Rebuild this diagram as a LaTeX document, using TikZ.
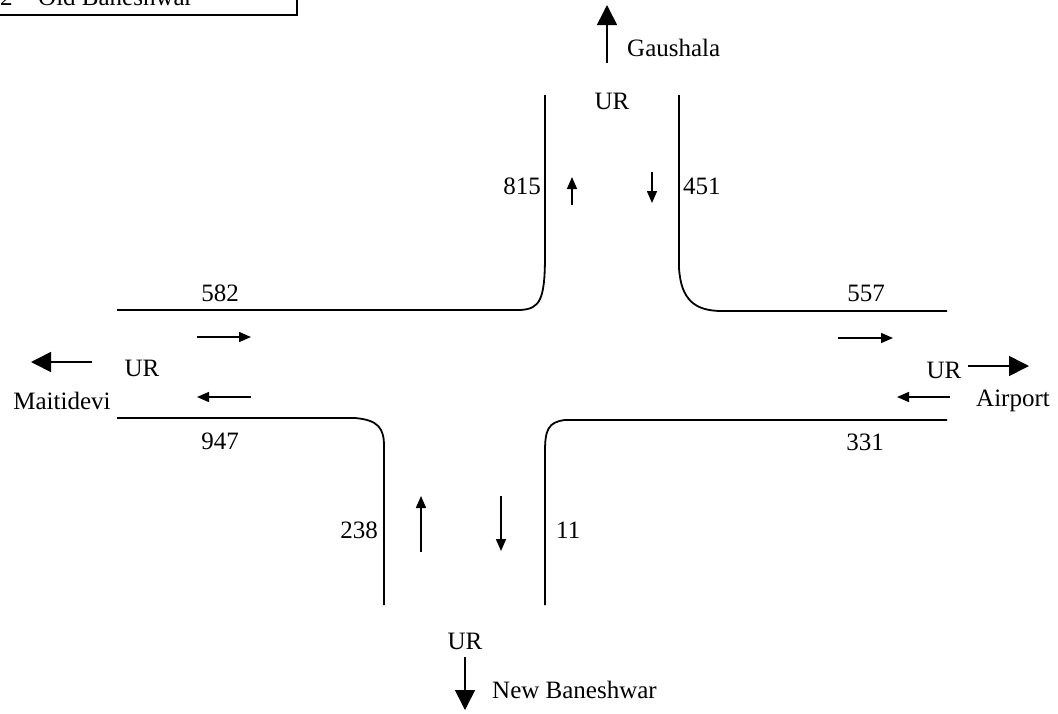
\documentclass[tikz,border=0pt]{standalone}
\usepackage{fontspec}
\setmainfont{Liberation Serif}
\usetikzlibrary{arrows.meta}
\begin{document}
\begin{tikzpicture}[x=1pt,y=-1pt,
  road/.style={line width=1.8pt},
  bigarrow/.style={line width=1.6pt,-{Triangle[width=20pt,length=20pt]}},
  smallarrow/.style={line width=1.5pt,-{Triangle[width=10pt,length=12pt]}},
  lbl/.style={inner sep=0pt,font=\fontsize{25}{30}\selectfont}]
\useasboundingbox (0,0) rectangle (1058,713);
% legend box (cut off)
\draw[line width=1.2pt] (0,15) -- (297,15) -- (297,-5);
\node[lbl,anchor=base west] (n2) at (0,5) {2};
\node[lbl,anchor=base west] (ob) at (38,5) {Old Baneshwar};
% roads
\draw[road] (545,95) -- (545,255) .. controls (545,300) and (540,309) .. (520,310) -- (117,310);
\draw[road] (679,95) -- (679,268) .. controls (681,300) and (695,311) .. (722,311) -- (947,311);
\draw[road] (117,418) -- (355,418) .. controls (378,420) and (384,428) .. (384,446) -- (384,605);
\draw[road] (947,420) -- (565,420) .. controls (548,422) and (545,430) .. (545,452) -- (545,605);
% labels
\node[lbl,anchor=west] (gau) at (627,48) {Gaushala};
\node[lbl] (urT) at (612,101) {UR};
\node[lbl,anchor=east] (n815) at (541,186) {815};
\node[lbl,anchor=west] (n451) at (683,186) {451};
\node[lbl] (n582) at (220,293) {582};
\node[lbl] (n557) at (866,293) {557};
\node[lbl] (urL) at (142,368) {UR};
\node[lbl] (mai) at (62,401) {Maitidevi};
\node[lbl] (urR) at (944,370) {UR};
\node[lbl] (air) at (1013,401) {Airport};
\node[lbl] (n947) at (220,441) {947};
\node[lbl] (n331) at (865,442) {331};
\node[lbl,anchor=east] (n238) at (378,530) {238};
\node[lbl,anchor=west] (n11) at (556,530) {11};
\node[lbl] (urB) at (465,641) {UR};
\node[lbl,anchor=west] (nb) at (492,690) {New Baneshwar};
% arrow end points
\coordinate (gA) at (607,63); \coordinate (gB) at (607,5);
\coordinate (t1a) at (572,205); \coordinate (t1b) at (572,177);
\coordinate (t2a) at (652,172); \coordinate (t2b) at (652,203);
\coordinate (l1a) at (197,337); \coordinate (l1b) at (251,337);
\coordinate (l2a) at (251,397); \coordinate (l2b) at (197,397);
\coordinate (mA) at (92,362); \coordinate (mB) at (31,362);
\coordinate (r1a) at (838,338); \coordinate (r1b) at (893,338);
\coordinate (r2a) at (950,397); \coordinate (r2b) at (897,397);
\coordinate (aA) at (968,366); \coordinate (aB) at (1029,366);
\coordinate (b1a) at (421,552); \coordinate (b1b) at (421,496);
\coordinate (b2a) at (501,496); \coordinate (b2b) at (501,551);
\coordinate (nA) at (465,657); \coordinate (nB) at (465,710);
% arrows
\draw[bigarrow] (gA) -- (gB);
\draw[smallarrow] (t1a) -- (t1b);
\draw[smallarrow] (t2a) -- (t2b);
\draw[smallarrow] (l1a) -- (l1b);
\draw[smallarrow] (l2a) -- (l2b);
\draw[bigarrow] (mA) -- (mB);
\draw[smallarrow] (r1a) -- (r1b);
\draw[smallarrow] (r2a) -- (r2b);
\draw[bigarrow] (aA) -- (aB);
\draw[smallarrow] (b1a) -- (b1b);
\draw[smallarrow] (b2a) -- (b2b);
\draw[bigarrow] (nA) -- (nB);
\end{tikzpicture}
\end{document}
